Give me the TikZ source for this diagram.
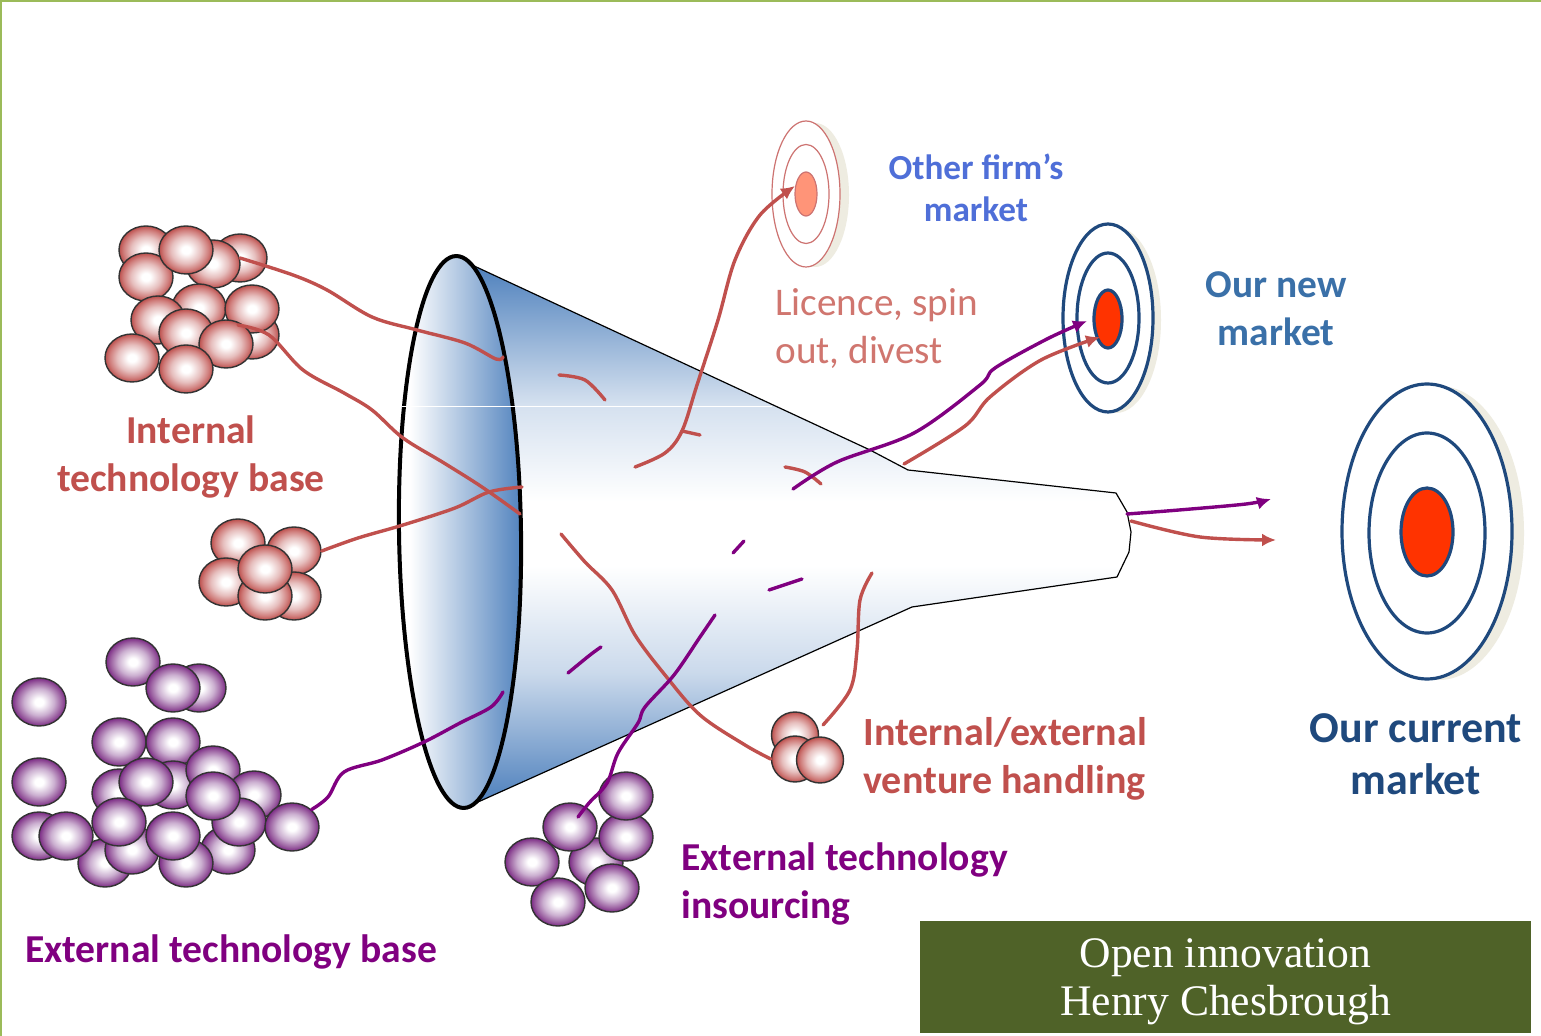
\documentclass[tikz,border=0pt]{standalone}
\usepackage{fontspec}
\setmainfont{Carlito}
\newfontfamily\serifbox{Liberation Serif}
\usetikzlibrary{shapes.geometric,arrows.meta}
\definecolor{tred}{HTML}{C0504D}
\definecolor{tpurple}{HTML}{800080}
\definecolor{tblue}{HTML}{4F81BD}
\definecolor{tnavy}{HTML}{1F497D}
\definecolor{tgreen}{HTML}{9BBB59}
\definecolor{tolive}{HTML}{4F6228}
\definecolor{tshadow}{HTML}{EEECE1}
\definecolor{tsalmon}{HTML}{FF9478}
\definecolor{tcore}{HTML}{FF3300}
\definecolor{tlic}{HTML}{D0766F}
\definecolor{tother}{HTML}{4F6FD8}
\definecolor{tnew}{HTML}{3A70A8}
\definecolor{pkmid}{HTML}{E6BEBD}
\definecolor{pkout}{HTML}{CF7C7A}
\definecolor{pkedge}{HTML}{BC4F4C}
\definecolor{pumid}{HTML}{CBAFD0}
\definecolor{puout}{HTML}{9A5EA0}
\definecolor{puedge}{HTML}{7B2A85}
\pgfdeclareradialshading{pinkshade}{\pgfpoint{0bp}{0bp}}{color(0bp)=(white); color(4bp)=(white); color(14bp)=(pkmid); color(21bp)=(pkout); color(25bp)=(pkedge); color(50bp)=(pkedge)}
\pgfdeclareradialshading{purpshade}{\pgfpoint{0bp}{0bp}}{color(0bp)=(white); color(4bp)=(white); color(14bp)=(pumid); color(21bp)=(puout); color(25bp)=(puedge); color(50bp)=(puedge)}
\pgfdeclareverticalshading{conefill}{100bp}{color(0bp)=(tblue); color(25bp)=(tblue); color(37bp)=(tblue!30!white); color(47bp)=(white); color(53bp)=(white); color(62bp)=(tblue!24!white); color(75bp)=(tblue); color(100bp)=(tblue)}
\pgfdeclarehorizontalshading{mouthfill}{100bp}{color(0bp)=(white); color(30bp)=(white); color(75bp)=(tblue); color(100bp)=(tblue)}
\tikzset{
  ballbase/.style={ellipse,draw=black!80,line width=0.7pt,inner sep=0pt,minimum width=27pt,minimum height=24pt},
  pinkball/.style={ballbase,shading=pinkshade},
  purpball/.style={ballbase,shading=purpshade},
  smallball/.style={minimum width=23.5pt,minimum height=23pt},
  redline/.style={draw=tred,line width=1.7pt,line cap=round,line join=round},
  purpline/.style={draw=tpurple,line width=1.7pt,line cap=round,line join=round},
  tip/.style={-{Latex[length=7pt,width=6.5pt]}},
  ring/.style={ellipse,draw=tnavy,line width=1.6pt,inner sep=0pt},
  pring/.style={ellipse,draw=tred!80!white,line width=0.6pt,inner sep=0pt},
  shadowell/.style={ellipse,fill=tshadow,inner sep=0pt},
  lab/.style={font=\fontsize{19.8}{24}\selectfont\bfseries,inner sep=0pt,align=center},
  sm/.style={smooth,tension=0.55},
}
\begin{document}
\begin{tikzpicture}[x=0.5pt,y=-0.5pt]
\useasboundingbox (0,0) rectangle (1541,1036);
\fill[white] (0,0) rectangle (1541,1036);
\fill[tgreen] (0,0) rectangle (1541,2);
\fill[tgreen] (0,0) rectangle (2,1036);
% funnel
\draw[black,line width=0.6pt,shading=conefill,line join=round]
  (472,265) -- (870,450) -- (908,470) -- (1116,493) -- (1127,512) -- (1131,532) -- (1129,552) -- (1117,577) -- (912,607) -- (478,802) -- cycle;
\draw[black,line width=2pt,shading=mouthfill] (460,532) ellipse [x radius=61,y radius=276,rotate=0.8];
\draw[white,line width=0.25pt] (402,406) -- (772,406);
% targets
\node[shadowell,minimum width=34pt,minimum height=72pt] (oshadow) at (815,195) {};
\node[pring,fill=white,minimum width=34pt,minimum height=73pt] (o1) at (806,194) {};
\node[pring,minimum width=23pt,minimum height=49.5pt] (o2) at (806,194) {};
\node[pring,fill=tsalmon,minimum width=11pt,minimum height=22pt] (o3) at (806,194) {};
\node[shadowell,minimum width=45pt,minimum height=93pt] (nshadow) at (1116,320) {};
\node[ring,fill=white,minimum width=45pt,minimum height=94pt] (n1) at (1108,318) {};
\node[ring,minimum width=31pt,minimum height=65pt] (n2) at (1108,318) {};
\node[ring,fill=tcore,minimum width=14pt,minimum height=29pt] (n3) at (1108,319) {};
\node[shadowell,minimum width=85pt,minimum height=147pt] (cshadow) at (1439,533) {};
\node[ring,fill=white,minimum width=85pt,minimum height=147.5pt] (c1) at (1427,531.5) {};
\node[ring,minimum width=58pt,minimum height=100pt] (c2) at (1427,533) {};
\node[ring,fill=tcore,minimum width=26pt,minimum height=44pt] (c3) at (1427,532) {};
% balls
\foreach \x/\y [count=\i] in {146/250,240/258,213/264,146/277,186/250,252/335,199/308,158/320,252/309,186/333,226/344,132/358,186/369}
  \node[pinkball] (ib\i) at (\x,\y) {};
\foreach \x/\y [count=\i] in {238/543,294/551,226/582,294/596,265/596,265/569}
  \node[pinkball] (mb\i) at (\x,\y) {};
\foreach \x/\y [count=\i] in {795/735,795/759,820/760}
  \node[pinkball,smallball] (vb\i) at (\x,\y) {};
\foreach \x/\y [count=\i] in {133/662,199/688,173/688,39/702,119/742,173/742,39/782,173/785,119/793,213/770,146/782,254/795,105/863,228/850,186/863,132/850,39/836,66/836,119/822,173/836,239/822,213/796,292/827}
  \node[purpball] (eb\i) at (\x,\y) {};
\foreach \x/\y [count=\i] in {596/862,626/837,626/796,570/827,532/862,612/888,558/902}
  \node[purpball] (sb\i) at (\x,\y) {};
% named free ends
\coordinate (m1) at (503,357);
\coordinate (m2) at (520,514);
\coordinate (m3) at (522,487);
\coordinate (m4) at (503,692);
\coordinate (i2s) at (238,325);
\coordinate (insrc) at (578,817);
\coordinate (insend) at (715,615);
\coordinate (licsrc) at (635,467);
\coordinate (longsrc) at (561,534);
\coordinate (ventsrc) at (872,573);
\coordinate (purpsrc) at (793,489);
\coordinate (redsrc) at (904,464);
\coordinate (outp) at (1127,514);
\coordinate (outpe) at (1271,499);
\coordinate (outr) at (1131,521);
\coordinate (outre) at (1276,540);
\coordinate (pd1) at (568,673); \coordinate (pd1e) at (601,647);
\coordinate (pd2) at (769,590); \coordinate (pd2e) at (802,579);
\coordinate (pd3) at (733,553); \coordinate (pd3e) at (744,541);
\coordinate (rd1) at (559,375); \coordinate (rd1e) at (605,400);
\coordinate (rd2) at (682,431); \coordinate (rd2e) at (700,435);
\coordinate (rd3) at (785,467); \coordinate (rd3e) at (821,484);
% red connectors
\draw[redline] plot[sm] coordinates {(ib2.center) (293,275) (327,290) (372,317) (417,330) (465,343) (496,359) (m1)};
\draw[redline] plot[sm] coordinates {(i2s) (269,335) (303,370) (344,393) (372,410) (403,438) (444,463) (482,487) (m2)};
\draw[redline] plot[sm] coordinates {(mb2.east) (358,538) (403,525) (455,508) (489,492) (m3)};
\draw[redline,tip] plot[sm] coordinates {(licsrc) (665,453) (682,431) (697,385) (718,320) (735,260) (760,215) (795,186)};
\draw[redline] plot[sm] coordinates {(longsrc) (585,562) (612,590) (635,635) (665,675) (700,715) (745,745) (vb2.west)};
\draw[redline] plot[sm] coordinates {(ventsrc) (860,600) (857,650) (850,690) (823,725)};
\draw[redline,tip] plot[sm] coordinates {(redsrc) (965,426) (990,397) (1041,360) (1100,337)};
\draw[redline,tip] plot[sm] coordinates {(outr) (1200,537) (outre)};
\draw[redline] plot[sm] coordinates {(rd1) (585,380) (rd1e)};
\draw[redline] (rd2) -- (rd2e);
\draw[redline] plot[sm] coordinates {(rd3) (805,472) (rd3e)};
% purple connectors
\draw[purpline] plot[sm] coordinates {(eb23.north east) (328,797) (344,772) (382,760) (424,742) (460,723) (491,707) (m4)};
\draw[purpline] plot[sm] coordinates {(insrc) (589,803) (607,783) (618,753) (638,723) (645,707) (674,675) (700,637) (insend)};
\draw[purpline,tip] plot[sm] coordinates {(purpsrc) (837,462) (914,433) (980,385) (995,368) (1047,339) (1087,321)};
\draw[purpline,tip] plot[sm] coordinates {(outp) (1179,510) (1246,504) (outpe)};
\draw[purpline] plot[sm] coordinates {(pd1) (590,655) (pd1e)};
\draw[purpline] (pd2) -- (pd2e);
\draw[purpline] (pd3) -- (pd3e);
% labels
\node[lab,text=tred] (l1) at (191,457) {Internal\\technology base};
\node[lab,text=tpurple] (l2) at (231,952) {External technology base};
\node[lab,text=tpurple,align=left,anchor=west] (l3) at (681,884) {External technology\\insourcing};
\node[lab,text=tred,align=left,anchor=west,font=\fontsize{20}{24}\selectfont\bfseries] (l4) at (863,759) {Internal/external\\venture handling};
\node[lab,text=tlic,align=left,anchor=west,font=\fontsize{19.6}{24}\selectfont] (l5) at (775,329) {Licence, spin\\out, divest};
\node[lab,text=tother,font=\fontsize{17.6}{21}\selectfont\bfseries] (l6) at (976,188) {Other firm’s\\market};
\node[lab,text=tnew,font=\fontsize{19.7}{24}\selectfont\bfseries] (l7) at (1276,309) {Our new\\market};
\node[lab,text=tnavy,font=\fontsize{22}{26}\selectfont\bfseries] (l8) at (1416,754) {Our current\\market};
\node[fill=tolive,inner sep=0pt,minimum width=305.5pt,minimum height=56pt] (box) at (1225.5,977) {};
\node[text=white,inner sep=0pt,align=center,font=\serifbox\fontsize{21.8}{24}\selectfont] (boxtext) at (1225.5,982) {Open innovation\\Henry Chesbrough};
\end{tikzpicture}
\end{document}
